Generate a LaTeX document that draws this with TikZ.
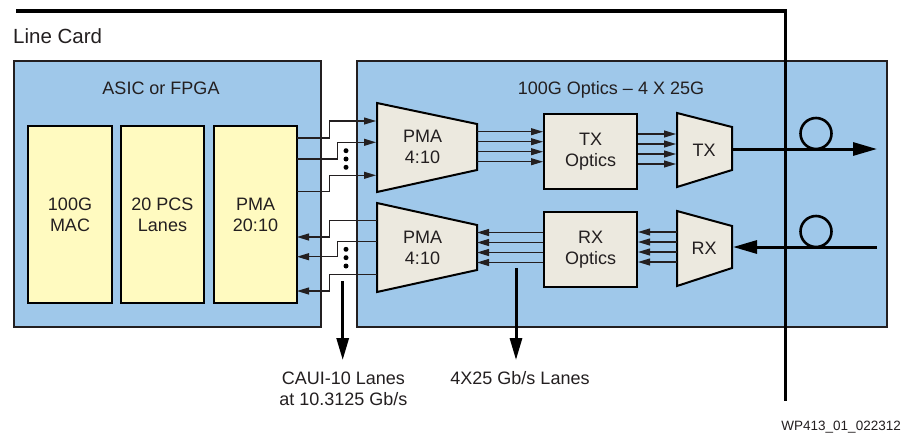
\documentclass[tikz,border=0pt]{standalone}
\usepackage{fontspec}
\setmainfont{Liberation Sans}
\usetikzlibrary{arrows.meta,calc}
\definecolor{cardblue}{RGB}{159,200,234}
\definecolor{chipyellow}{RGB}{255,250,192}
\definecolor{partbeige}{RGB}{236,233,223}
\definecolor{inkgray}{RGB}{35,31,32}
\begin{document}
\begin{tikzpicture}[x=1pt,y=-1pt,
  txt/.style={font=\fontsize{18}{21}\selectfont, align=center, text=inkgray, inner sep=0pt},
  panel/.style={draw=inkgray, line width=1.8pt, fill=cardblue, anchor=north west, inner sep=0pt},
  chip/.style={txt, draw=black, line width=2pt, fill=chipyellow, anchor=north west, minimum width=83pt, minimum height=177pt},
  optbox/.style={txt, draw=black, line width=2pt, fill=partbeige, anchor=north west, minimum width=93pt, minimum height=75pt},
  trap/.style={draw=black, line width=2pt, fill=partbeige, line join=miter},
  lane/.style={draw=inkgray, line width=1.1pt},
  lanearrow/.style={lane, -{Triangle[length=12pt,width=7pt]}},
  bigarrow/.style={draw=black, line width=3pt, -{Triangle[length=22pt,width=12pt]}},
  fiber/.style={draw=black, line width=3pt},
  fiberarrow/.style={fiber, -{Triangle[length=24pt,width=13pt]}},
  loopring/.style={circle, draw=black, line width=2.6pt, minimum size=31pt, inner sep=0pt},
  dotmark/.style={circle, fill=black, inner sep=0pt, minimum size=5pt}
]
\useasboundingbox (0,0) rectangle (907,432);
\fill[white] (0,0) rectangle (907,432);

% Line card label
\node[txt, font=\fontsize{20.5}{24}\selectfont, anchor=base west] (linecard) at (13,43) {Line Card};

% panels
\node[panel, minimum width=307pt, minimum height=266pt] (asic) at (13,60) {};
\node[panel, minimum width=530pt, minimum height=266pt] (optics) at (356,60) {};
\node[txt, anchor=base] (asictitle) at (161,94) {ASIC or FPGA};
\node[txt, anchor=base] (opttitle) at (611,94) {100G Optics -- 4 X 25G};

% chips
\node[chip, minimum width=84pt] (mac) at (27,125) {100G\\MAC};
\node[chip] (pcs) at (120,125) {20 PCS\\Lanes};
\node[chip] (pma20) at (213,125) {PMA\\20:10};

% PMA 4:10 gearboxes
\draw[trap] (377,103) -- (477,124) -- (477,170) -- (377,192) -- cycle;
\node[txt] (ptx) at (422.5,147) {PMA\\4:10};
\coordinate (ptxE) at (477,146.7);
\draw[trap] (377,203) -- (477,225) -- (477,270) -- (377,292) -- cycle;
\node[txt] (prx) at (422.5,247.5) {PMA\\4:10};
\coordinate (prxE) at (477,247.5);

% optics boxes
\node[optbox] (txopt) at (543,113) {TX\\Optics};
\node[optbox] (rxopt) at (543,211) {RX\\Optics};

% TX / RX drivers
\draw[trap] (677,113) -- (732,127) -- (732,170) -- (677,187) -- cycle;
\node[txt] (ttx) at (704,150) {TX};
\coordinate (ttxW) at (677,149);
\coordinate (ttxE) at (732,149);
\draw[trap] (677,211) -- (732,226) -- (732,268) -- (677,286) -- cycle;
\node[txt] (trx) at (704,248) {RX};
\coordinate (trxW) at (677,247);
\coordinate (trxE) at (732,247);

% 4 lanes
\foreach \d in {-15,-5,5,15}{
  \path ($(ptxE)+(0,\d)$) coordinate (s);
  \draw[lanearrow] (s) -- (s -| txopt.west);
  \path ($(ttxW)+(0,\d)$) coordinate (s);
  \draw[lanearrow] (s -| txopt.east) -- ([xshift=-1pt]s);
  \path ($(trxW)+(0,\d)$) coordinate (s);
  \draw[lanearrow] (s) -- (s -| rxopt.east);
  \path ($(prxE)+(0,\d)$) coordinate (s);
  \draw[lanearrow] (s -| rxopt.west) -- (s);
}

% CAUI lanes TX
\coordinate (tx1s) at (297,138);   \coordinate (tx1e) at (376,121);
\coordinate (tx2s) at (297,159);   \coordinate (tx2e) at (376,142.3);
\coordinate (tx3s) at (297,191.3); \coordinate (tx3e) at (376,175.3);
\draw[lanearrow] (tx1s) -- (329.3,138) |- (tx1e);
\draw[lanearrow] (tx2s) -- (337.3,159) |- (tx2e);
\draw[lanearrow] (tx3s) -- (329.3,191.3) |- (tx3e);
% CAUI lanes RX
\coordinate (rx1s) at (377,220.7); \coordinate (rx1e) at (297,237);
\coordinate (rx2s) at (377,241.7); \coordinate (rx2e) at (297,256.7);
\coordinate (rx3s) at (377,274.3); \coordinate (rx3e) at (297,291);
\draw[lanearrow] (rx1s) -- (329.3,220.7) |- (rx1e);
\draw[lanearrow] (rx2s) -- (337.3,241.7) |- (rx2e);
\draw[lanearrow] (rx3s) -- (329.3,274.3) |- (rx3e);

% dots
\node[dotmark] (d1) at (346,150.7) {};
\node[dotmark] (d2) at (346,159) {};
\node[dotmark] (d3) at (346,167.3) {};
\node[dotmark] (d4) at (346,249.3) {};
\node[dotmark] (d5) at (346,257.7) {};
\node[dotmark] (d6) at (346,266) {};

% fibers
\coordinate (txend) at (877,149);
\coordinate (rxstart) at (877,247);
\draw[fiberarrow] (ttxE) -- (txend);
\draw[fiberarrow] (rxstart) -- ([xshift=1pt]trxE);
\node[loopring] (loop1) at (816,133.5) {};
\node[loopring] (loop2) at (816,231.5) {};

% card edge line
\coordinate (edge1) at (16,11);
\coordinate (edge2) at (785.5,11);
\coordinate (edge3) at (785.5,401);
\draw[black, line width=3.4pt] (edge1) -- (edge2) -- (edge3);

% lane labels
\node[txt, anchor=base] (caui) at (343.3,405) {CAUI-10 Lanes\\at 10.3125 Gb/s};
\node[txt, anchor=base] (lanes25) at (520,384.3) {4X25 Gb/s Lanes};
\coordinate (cauiTop) at (342.7,281);
\coordinate (cauiTip) at (342.7,360);
\coordinate (l25Top) at (516,268);
\coordinate (l25Tip) at (516,360);
\draw[bigarrow] (cauiTop) -- (cauiTip);
\draw[bigarrow] (l25Top) -- (l25Tip);

% figure id
\node[txt, font=\fontsize{13.5}{16}\selectfont, anchor=base east] (figid) at (901,430) {WP413\_01\_022312};
\end{tikzpicture}
\end{document}
